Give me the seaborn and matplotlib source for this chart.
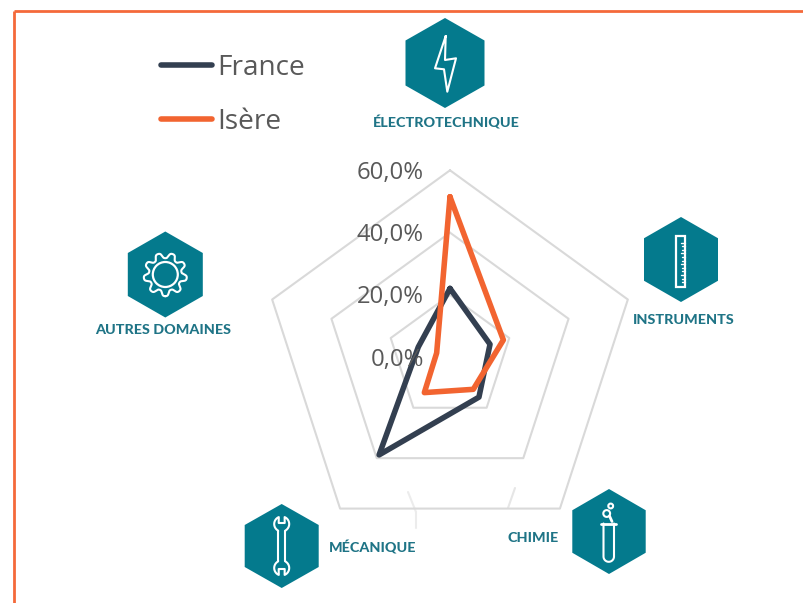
import numpy as np
import pandas as pd
import matplotlib
matplotlib.use("Agg")
import matplotlib.pyplot as plt
from matplotlib.patches import Polygon, Circle, Rectangle
import seaborn as sns

categories = ["ÉLECTROTECHNIQUE", "INSTRUMENTS", "CHIMIE", "MÉCANIQUE", "AUTRES DOMAINES"]
france = [22.1, 13.5, 15.8, 38.7, 10.7]
isere = [51.5, 18.0, 12.7, 14.0, 4.5]
series_names = ["France", "Isère"]
ring_values = [20, 40, 60]
tick_values = [0, 20, 40, 60]
tick_labels = ["0,0%", "20,0%", "40,0%", "60,0%"]

W, H = 804, 603
NAVY, ORANGE, TEAL, LABEL, GREY = "#333f50", "#f26430", "#047a8d", "#595959", "#d9d9d9"
TEXT_TEAL = "#1f7486"

sns.set_theme(style="white")
plt.rcParams["font.family"] = ["Open Sans", "DejaVu Sans"]

fig = plt.figure(figsize=(W / 100, H / 100), dpi=100, facecolor="white")

# overlay in pixel coordinates for frame and pictograms
ov = fig.add_axes([0, 0, 1, 1], zorder=0)
ov.set_xlim(0, W)
ov.set_ylim(H, 0)
ov.axis("off")

# radar
cx, cy, rad = 450, 357.3, 187
ax = fig.add_axes([(cx - rad) / W, 1 - (cy + rad) / H, 2 * rad / W, 2 * rad / H],
                  projection="polar", zorder=1)
ax.patch.set_alpha(0)
ax.set_theta_zero_location("N")
ax.set_theta_direction(-1)
theta = np.linspace(0, 2 * np.pi, len(categories), endpoint=False)
theta_closed = np.append(theta, 2 * np.pi)

for v in ring_values:
    ax.plot(theta_closed, [v] * len(theta_closed), color=GREY, lw=1.5, zorder=1, clip_on=False)

df = pd.DataFrame({
    "theta": np.tile(theta_closed, 2),
    "value": france + france[:1] + isere + isere[:1],
    "series": np.repeat(series_names, len(theta_closed)),
})
sns.lineplot(data=df, x="theta", y="value", hue="series", hue_order=series_names,
             palette=[NAVY, ORANGE], sort=False, estimator=None, lw=4, ax=ax, zorder=3,
             solid_joinstyle="round", solid_capstyle="round", legend=True)
ax.set_ylim(0, 60)
ax.set_xticks([])
ax.set_yticks([])
ax.set_xlabel("")
ax.set_ylabel("")
ax.grid(False)
ax.spines["polar"].set_visible(False)

for v, t in zip(tick_values, tick_labels):
    ax.annotate(t, xy=(0, v), xytext=(-26, -2.5), textcoords="offset pixels", ha="right",
                va="center", fontsize=17.2, color=LABEL, zorder=4, annotation_clip=False)

handles, labels = ax.get_legend_handles_labels()
leg = ax.legend(handles, labels, loc="upper left", frameon=False, fontsize=20.2,
                bbox_to_anchor=(161 / W, 1 - 54 / H), bbox_transform=fig.transFigure,
                handlelength=1.82, handletextpad=0.19, labelspacing=0.92,
                borderpad=0, borderaxespad=0)
for t in leg.get_texts():
    t.set_color(LABEL)
for h in leg.get_lines():
    h.set_solid_capstyle("round")

# frame
ov.plot([14.5, 14.5], [H, 10.5], color="#f4693a", lw=2, solid_capstyle="butt")
ov.plot([14.5, W], [10.5, 10.5], color="#f4693a", lw=2, solid_capstyle="butt")

# faint fragments below the outer ring
ov.plot([408, 416, 416], [492, 512, 528], color="#ececec", lw=1.5)
ov.plot([515, 508], [488, 508], color="#e6e6e6", lw=1.5)


def hexagon(x, y, R, hw):
    pts = [(x, y - R), (x + hw, y - R / 2), (x + hw, y + R / 2),
           (x, y + R), (x - hw, y + R / 2), (x - hw, y - R / 2)]
    ov.add_patch(Polygon(pts, closed=True, fc=TEAL, ec="none"))


def white(xs, ys, lw=1.5):
    ov.plot(xs, ys, color="white", lw=lw, solid_joinstyle="round", solid_capstyle="round")


# electrotechnique
x0, y0 = 445, 63
hexagon(x0, y0, 45, 39.5)
bolt = np.array([(0.7, -27), (-10, 5.3), (-1, 6.3), (2.3, 28.7), (11, -4.7), (0, -3), (0.7, -27)])
white(x0 + bolt[:, 0], y0 + bolt[:, 1])

# instruments
x0, y0 = 681, 259.5
hexagon(x0, y0, 42.5, 37)
ov.add_patch(Rectangle((x0 - 5.3, y0 - 23.5), 9.3, 51.3, fc="none", ec="white", lw=1.6))
for k, dy in enumerate(np.arange(-17, 26, 3.6)):
    ln = 4.2 if k % 3 == 0 else 2.6
    white([x0 + 4, x0 + 4 - ln], [y0 + dy, y0 + dy], lw=1)

# chimie
x0, y0 = 609, 531.5
hexagon(x0, y0, 42.5, 36.7)
a = np.linspace(np.pi, 0, 30)
tx = np.r_[x0 - 5.5, x0 - 0.25 + 5.25 * np.cos(a), x0 + 5]
ty = np.r_[y0 - 8, y0 + 25 + 5.3 * np.sin(a), y0 - 8]
white(tx, ty)
white([x0 - 7.5, x0 + 7], [y0 - 8, y0 - 8], lw=2)
ov.add_patch(Circle((x0 - 2.3, y0 - 18), 3.4, fc="none", ec="white", lw=1.5))
ov.add_patch(Circle((x0 + 1.7, y0 - 25.5), 2.4, fc="none", ec="white", lw=1.5))
white([x0 + 0.5, x0 + 3], [y0 - 15.5, y0 - 10], lw=2)

# mecanique
x0, y0 = 281.7, 546
hexagon(x0, y0, 42, 37)
left = np.radians(np.linspace(120, 247, 20))
right = np.radians(np.linspace(-67, 60, 20))
for s in (1, -1):
    ex = np.r_[-3.5, 7.5 * np.cos(left), -3, 3, 7.5 * np.cos(right), 3.5]
    ey = np.r_[-15, -22 + 7.5 * np.sin(left), -23, -23, -22 + 7.5 * np.sin(right), -15]
    white(x0 + ex, y0 + s * ey)
white([x0 - 3.5, x0 - 3.5], [y0 - 15, y0 + 15])
white([x0 + 3.5, x0 + 3.5], [y0 - 15, y0 + 15])

# autres domaines
x0, y0 = 165.3, 274.5
hexagon(x0, y0, 43, 37.5)
ov.add_patch(Circle((x0, y0), 12.5, fc="none", ec="white", lw=1.6))
n = 9
a = np.linspace(0, 2 * np.pi, 721)
r = 19 + 3 * np.tanh(1.5 * np.cos(n * a))
white(x0 + r * np.sin(a), y0 + r * np.cos(a), lw=1.5)

# category labels
label_pos = [(446.5, 122.5), (683.5, 319.5), (533.5, 538), (373, 547.5), (163.5, 330.5)]
for c, (lx, ly) in zip(categories, label_pos):
    ov.text(lx, ly, c, ha="center", va="center", fontsize=10.3, fontweight="black",
            color=TEXT_TEAL, family=["Lato", "DejaVu Sans"])

fig.savefig("out.png", dpi=100, facecolor="white")
